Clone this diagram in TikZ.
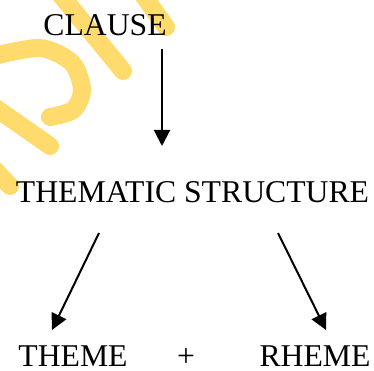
\documentclass[tikz,border=0pt]{standalone}
\usepackage{fontspec}
\setmainfont{Liberation Serif}
\usetikzlibrary{arrows.meta}
\definecolor{wm}{RGB}{255,218,108}
\tikzset{
  lbl/.style={anchor=base, inner sep=0pt, font=\fontsize{31.7}{38}\selectfont},
  arr/.style={line width=2pt, -{Triangle[width=16pt,length=16pt]}},
  wmark/.style={wm, line width=18pt, line cap=round}
}
\begin{document}
\begin{tikzpicture}[x=1pt,y=-1pt]
\useasboundingbox (0,0) rectangle (374,371);
% watermark fragments
\draw[wmark] (138,-12) -- (166,27);
\draw[wmark] (55,-12) -- (123,71);
\draw[wmark] plot[smooth] coordinates {(-10,57) (40,48) (72,63) (82,90) (73,110) (50,117)};
\draw[wmark] (-10,104) -- (50,146);
\draw[wmark] (-10,165) -- (10,186);
% texts
\node[lbl] (clause) at (105,36) {CLAUSE};
\node[lbl] (thematic) at (192.5,202) {THEMATIC STRUCTURE};
\node[lbl] (theme) at (73,366) {THEME};
\node[lbl] (plus) at (186,366) {+};
\node[lbl] (rheme) at (315,366) {RHEME};
% connector end points
\coordinate (c1) at (162,49);
\coordinate (t1) at (162,146);
\coordinate (c2) at (99,233);
\coordinate (t2) at (52,330);
\coordinate (c3) at (278,233);
\coordinate (t3) at (326,330);
\draw[arr] (c1) -- (t1);
\draw[arr] (c2) -- (t2);
\draw[arr] (c3) -- (t3);
\end{tikzpicture}
\end{document}
